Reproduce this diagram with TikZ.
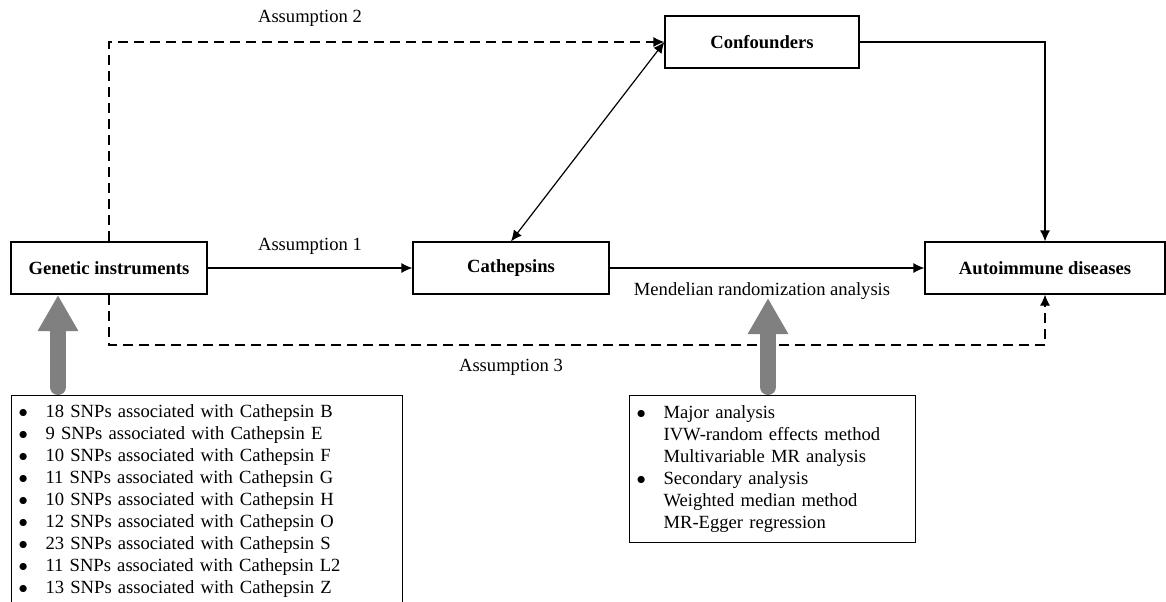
\documentclass[tikz,border=0pt]{standalone}
\usepackage{fontspec}
\setmainfont{Liberation Serif}
\usetikzlibrary{arrows.meta}

\begin{document}
\begin{tikzpicture}[x=0.5pt, y=-0.5pt, font=\fontsize{9.3}{11}\selectfont,
		box/.style={draw, line width=0.6pt, minimum width=98pt, minimum height=26pt, font=\fontsize{9.3}{11}\selectfont\bfseries},
		listbox/.style={draw, line width=0.6pt, anchor=north west, inner xsep=3.5pt, inner ysep=3pt},
		bigarrow/.style={draw=gray, line width=8pt, line cap=round, -{Triangle[width=19pt, length=18pt]}},
		conn/.style={line width=0.6pt, ->, >={Latex[length=5.5pt, width=5pt]}},
		dconn/.style={conn, dash pattern=on 5pt off 3pt}]
		\clip (0,0) rectangle (1166,601);
		% main boxes
		\draw (109,268) node[box] (G) {Genetic instruments};
		\draw (511,268) node[box] (C) {Cathepsins};
		\draw (762,42) node[box, minimum width=97pt] (F) {Confounders};
		\draw (1045,268) node[box, minimum width=120pt] (A) {Autoimmune diseases};
		% labels
		\draw (310,18) node (a2) {Assumption 2};
		\draw (310,246) node (a1) {Assumption 1};
		\draw (511,367) node (a3) {Assumption 3};
		\draw (762,291) node (mr) {Mendelian randomization analysis};
		% lists
		\draw (11,395) node[listbox, text width=188.5pt] (snps) {%
			\begin{tabular}{@{}p{13.5pt}@{}l@{}}
				$\bullet$ & 18 SNPs associated with Cathepsin B\\
				$\bullet$ & 9 SNPs associated with Cathepsin E\\
				$\bullet$ & 10 SNPs associated with Cathepsin F\\
				$\bullet$ & 11 SNPs associated with Cathepsin G\\
				$\bullet$ & 10 SNPs associated with Cathepsin H\\
				$\bullet$ & 12 SNPs associated with Cathepsin O\\
				$\bullet$ & 23 SNPs associated with Cathepsin S\\
				$\bullet$ & 11 SNPs associated with Cathepsin L2\\
				$\bullet$ & 13 SNPs associated with Cathepsin Z
			\end{tabular}};
		\draw (629,395) node[listbox, text width=136pt, minimum height=73.5pt] (ana) {%
			\begin{tabular}{@{}p{13.5pt}@{}l@{}}
				$\bullet$ & Major analysis\\
				 & IVW-random effects method\\
				 & Multivariable MR analysis\\
				$\bullet$ & Secondary analysis\\
				 & Weighted median method\\
				 & MR-Egger regression
			\end{tabular}};
		% connectors
		\coordinate (low) at (0,345);
		\draw[conn] (G) -- (C);
		\draw[conn] (C) -- (A);
		\draw[conn] (F.east) -| (A.north);
		\draw[conn, <->] (C.north) -- (F.west);
		\draw[dconn] (G.north) |- (F.west);
		\draw[dconn] (G.south) -- (G.south |- low) -| (A.south);
		% gray arrows
		\coordinate (gTip) at (58,295);
		\coordinate (mTip) at (768,298);
		\draw[bigarrow] ([yshift=4pt]snps.north -| gTip) -- (gTip);
		\draw[bigarrow] ([yshift=4pt]ana.north -| mTip) -- (mTip);
	\end{tikzpicture}
\end{document}
